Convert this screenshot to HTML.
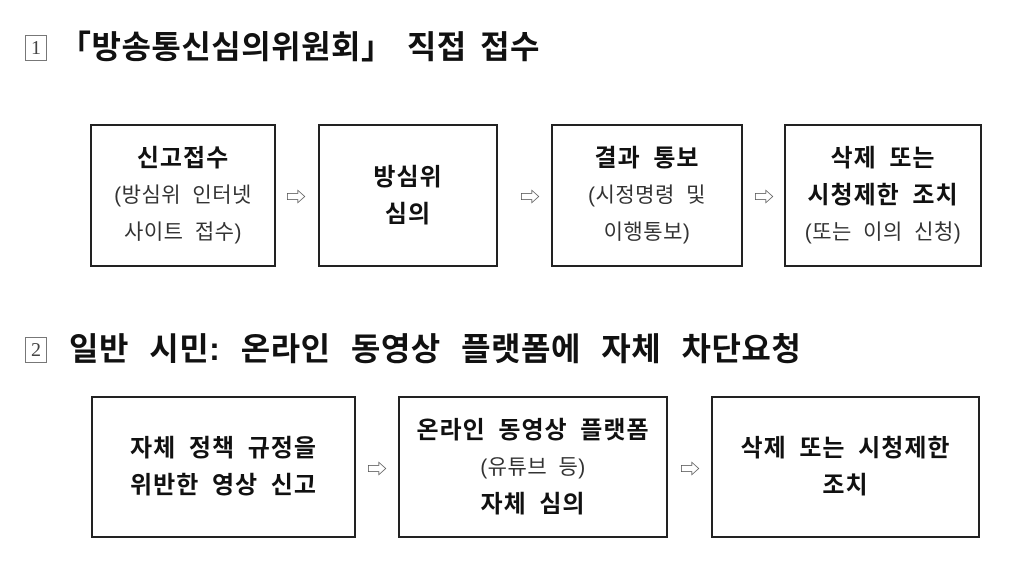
<!DOCTYPE html>
<html><head><meta charset="utf-8"><style>
body{margin:0;width:1024px;height:572px;background:#fff;position:relative;font-family:"Liberation Sans","Noto Sans CJK KR",sans-serif;color:#111;overflow:hidden}
.t{position:absolute;font-size:32px;font-weight:bold;white-space:nowrap;letter-spacing:0.5px;word-spacing:7px}
.sq{display:inline-block;width:20px;height:24px;border:1px solid #777;font-size:20px;font-weight:normal;text-align:center;line-height:24px;vertical-align:4px;margin-right:12px;font-family:"Liberation Serif",serif;color:#444;letter-spacing:0}
.b{position:absolute;border:2px solid #222;box-sizing:border-box;display:flex;flex-direction:column;justify-content:center;align-items:center;text-align:center;line-height:37px;white-space:nowrap}
.b .h{font-size:24px;font-weight:bold;letter-spacing:1px;word-spacing:5px}
.b .n{font-size:21px;color:#333;letter-spacing:0.5px;word-spacing:5px}
.a{position:absolute;font-size:20px;color:#555}
</style></head><body>
<div class="t" style="left:25px;top:22px;word-spacing:4px"><span class="sq">1</span>「방송통신심의위원회」 직접 접수</div>
<div class="b" style="left:90px;top:124px;width:186px;height:143px"><div class="h">신고접수</div><div class="n">(방심위 인터넷</div><div class="n">사이트 접수)</div></div>
<div class="a" style="left:286px;top:181px">⇨</div>
<div class="b" style="left:318px;top:124px;width:180px;height:143px"><div class="h">방심위</div><div class="h">심의</div></div>
<div class="a" style="left:520px;top:181px">⇨</div>
<div class="b" style="left:551px;top:124px;width:192px;height:143px"><div class="h">결과 통보</div><div class="n">(시정명령 및</div><div class="n">이행통보)</div></div>
<div class="a" style="left:754px;top:181px">⇨</div>
<div class="b" style="left:784px;top:124px;width:198px;height:143px"><div class="h">삭제 또는</div><div class="h">시청제한 조치</div><div class="n">(또는 이의 신청)</div></div>
<div class="t" style="left:25px;top:324px;word-spacing:11px"><span class="sq" style="margin-right:22px">2</span>일반 시민: 온라인 동영상 플랫폼에 자체 차단요청</div>
<div class="b" style="left:91px;top:396px;width:265px;height:142px"><div class="h">자체 정책 규정을</div><div class="h">위반한 영상 신고</div></div>
<div class="a" style="left:367px;top:453px">⇨</div>
<div class="b" style="left:398px;top:396px;width:270px;height:142px"><div class="h">온라인 동영상 플랫폼</div><div class="n">(유튜브 등)</div><div class="h">자체 심의</div></div>
<div class="a" style="left:680px;top:453px">⇨</div>
<div class="b" style="left:711px;top:396px;width:269px;height:142px"><div class="h">삭제 또는 시청제한</div><div class="h">조치</div></div>
</body></html>
